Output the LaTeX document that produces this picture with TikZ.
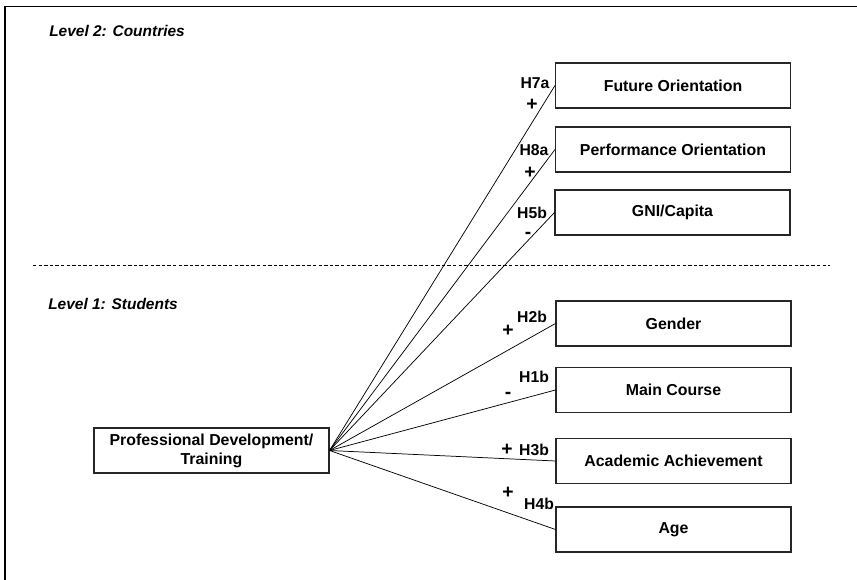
\documentclass[tikz,border=0pt]{standalone}
\usepackage{fontspec}
\setmainfont{Liberation Sans}
\begin{document}
\begin{tikzpicture}[x=0.75pt,y=-0.75pt,
  factor/.style={draw=black!85,line width=0.8pt,fill=white,inner sep=0pt,
    minimum width=176.25pt,minimum height=33.75pt,align=center,
    font=\fontsize{11.9}{14.2}\selectfont\bfseries},
  hyp/.style={inner sep=0pt,font=\fontsize{11.8}{13}\selectfont\bfseries},
  sign/.style={inner sep=0pt,font=\fontsize{14.5}{15}\selectfont\bfseries},
  level/.style={inner sep=0pt,anchor=west,font=\fontsize{11.6}{13}\selectfont\bfseries\itshape},
  link/.style={draw=black,line width=0.55pt}]
\useasboundingbox (0,0) rectangle (857,580);
% page frame (left and top edges)
\draw[line width=1.1pt] (5,580) -- (5,6.5) -- (857,6.5);
% level separator
\draw[line width=0.6pt,dash pattern=on 2.6pt off 1.6pt] (33,265) -- (830,265);
\node[level] (lvl2) at (49,31) {Level 2: Countries};
\node[level] (lvl1) at (48,304) {Level 1: Students};
% predictor
\node[factor] (pd) at (211.5,450.5) {Professional Development/\\Training};
% country-level factors
\node[factor] (fut) at (673,85.5) {Future Orientation};
\node[factor] (perf) at (673,149.5) {Performance Orientation};
\node[factor] (gni) at (672.5,212.5) {GNI/Capita};
% student-level factors
\node[factor] (gen) at (673.5,323.5) {Gender};
\node[factor] (mc) at (673.5,390) {Main Course};
\node[factor] (aa) at (673.5,461) {Academic Achievement};
\node[factor] (age) at (673.5,529.5) {Age};
% paths
\foreach \t in {fut,perf,gni,gen,mc,aa,age}
  \draw[link] (pd.east) -- (\t.west);
% hypothesis labels and expected signs
\node[hyp] (h7a) at (535,83) {H7a};
\node[sign] (s7a) at (532,105) {+};
\node[hyp] (h8a) at (534,150) {H8a};
\node[sign] (s8a) at (530,173) {+};
\node[hyp] (h5b) at (532,213) {H5b};
\node[sign] (s5b) at (528,235) {-};
\node[hyp] (h2b) at (532,317) {H2b};
\node[sign] (s2b) at (508,331) {+};
\node[hyp] (h1b) at (534,377) {H1b};
\node[sign] (s1b) at (508,395) {-};
\node[sign] (s3b) at (507,450) {+};
\node[hyp] (h3b) at (534,450) {H3b};
\node[sign] (s4b) at (508,493) {+};
\node[hyp] (h4b) at (539,504) {H4b};
\end{tikzpicture}
\end{document}
